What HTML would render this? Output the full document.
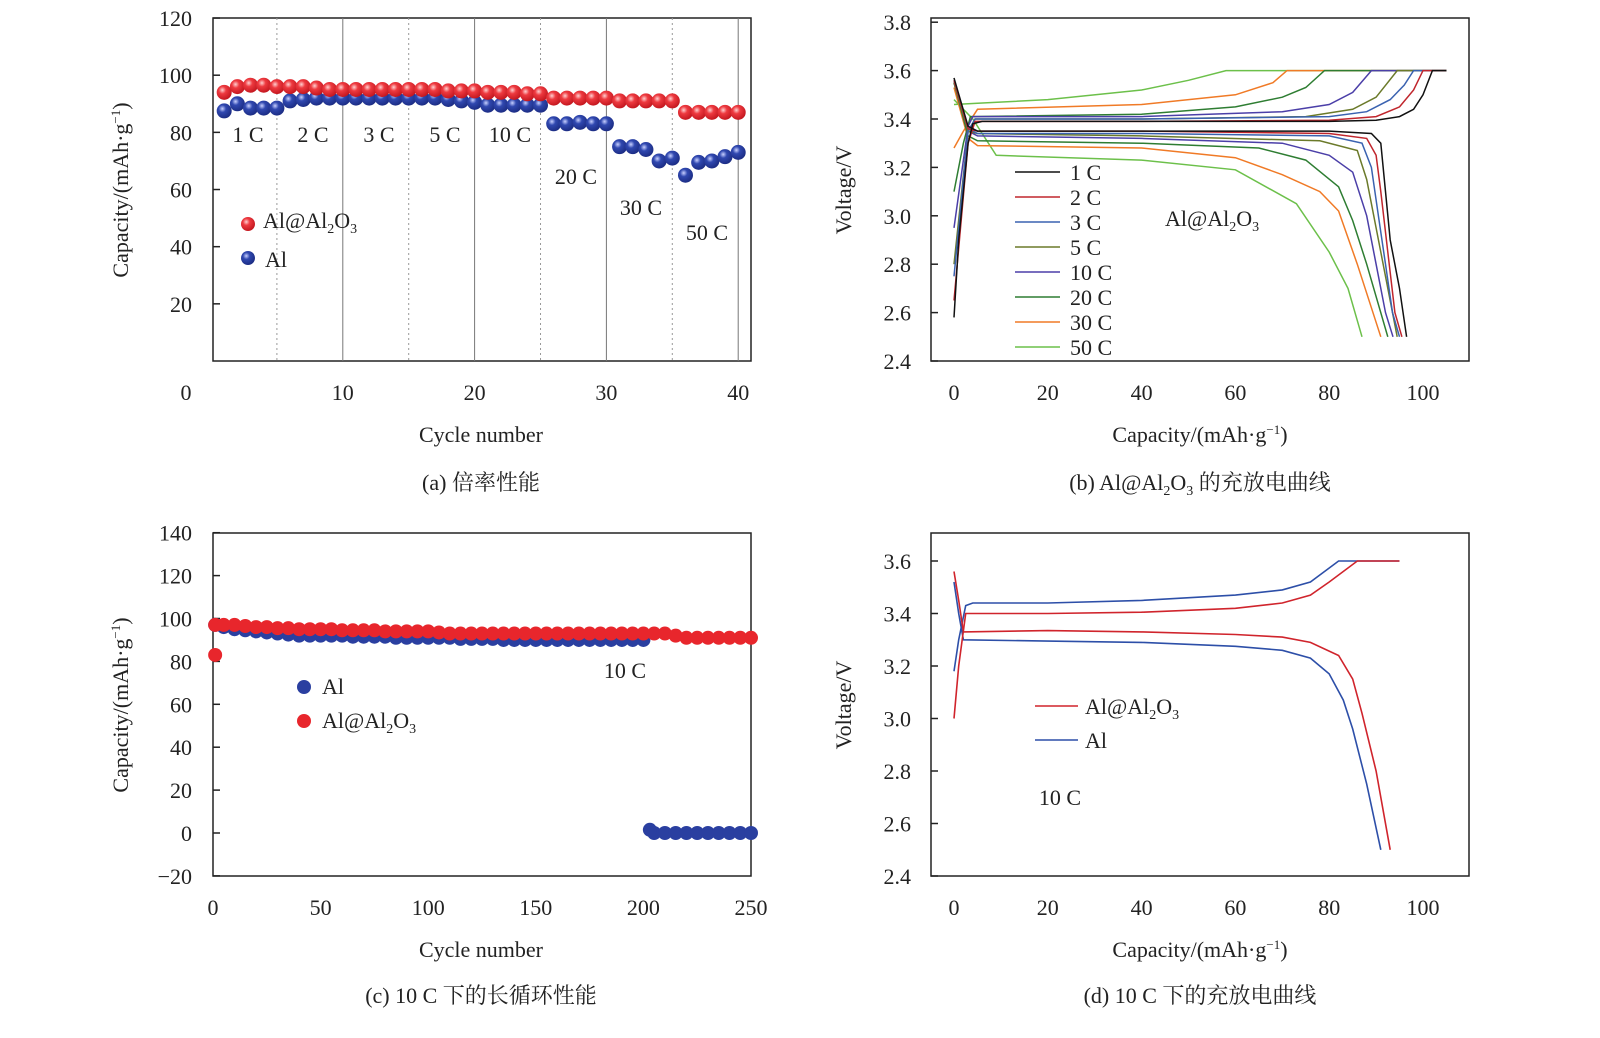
<!DOCTYPE html>
<html><head><meta charset="utf-8">
<style>
body{margin:0;background:#fff;width:1600px;height:1038px;overflow:hidden}
svg{display:block}
text{font-family:"Liberation Serif","Noto Serif CJK SC",serif;fill:#222}
</style></head>
<body>
<svg id="fig" width="1600" height="1038" viewBox="0 0 1600 1038">
<defs>
<radialGradient id="gr" cx="0.38" cy="0.35" r="0.7"><stop offset="0" stop-color="#ffd0d0"/><stop offset="0.35" stop-color="#ee3a40"/><stop offset="1" stop-color="#c0141c"/></radialGradient>
<radialGradient id="gb" cx="0.38" cy="0.35" r="0.7"><stop offset="0" stop-color="#c8d0ff"/><stop offset="0.35" stop-color="#3048b0"/><stop offset="1" stop-color="#1a2a80"/></radialGradient>
</defs>
</svg>
<script>
// ---------- Panel (a) data ----------
const aCycles=[1,2,3,4,5,6,7,8,9,10,11,12,13,14,15,16,17,18,19,20,21,22,23,24,25,26,27,28,29,30,31,32,33,34,35,36,37,38,39,40];
const aRed=[94,96,96.5,96.5,96,96,96,95.5,95,95,95,95,95,95,95,95,95,94.5,94.5,94.5,94,94,94,93.5,93.5,92,92,92,92,92,91,91,91,91,91,87,87,87,87,87];
const aBlue=[87.5,90,88.5,88.5,88.5,91,91.5,92,92,92,92,92,92,92,92,92,92,91.5,91,90.5,89.5,89.5,89.5,89.5,89.5,83,83,83.5,83,83,75,75,74,70,71,65,69.5,70,71.5,73];
const aYTicks=[20,40,60,80,100,120];
const aXTicks=[0,10,20,30,40];
const aRates=["1 C","2 C","3 C","5 C","10 C","20 C","30 C","50 C"];
// ---------- Panel (b) data ----------
const bRates=["1 C","2 C","3 C","5 C","10 C","20 C","30 C","50 C"];
const bColors=["#111","#c0262d","#3a62b0","#6b7a2a","#4b3fa8","#2e7d32","#f07a26","#6cc04a"];
const bCharge=[
[[0,2.58],[1,2.9],[3,3.3],[4,3.38],[6,3.39],[40,3.39],[80,3.39],[90,3.395],[95,3.41],[98,3.44],[100,3.5],[102,3.6],[105,3.6]],
[[0,2.65],[3,3.3],[4.5,3.39],[40,3.39],[80,3.395],[90,3.41],[95,3.45],[98,3.52],[100,3.6],[105,3.6]],
[[0,2.75],[3,3.35],[4.5,3.4],[40,3.4],[80,3.41],[88,3.43],[93,3.48],[96,3.54],[98,3.6],[105,3.6]],
[[0,2.8],[3,3.35],[4.5,3.4],[40,3.4],[75,3.41],[85,3.44],[90,3.49],[94.5,3.6],[105,3.6]],
[[0,2.95],[3,3.37],[4,3.41],[40,3.41],[70,3.43],[80,3.46],[85,3.51],[89,3.6],[105,3.6]],
[[0,3.1],[2,3.3],[3.5,3.41],[40,3.42],[60,3.45],[70,3.49],[75,3.53],[79,3.6],[105,3.6]],
[[0,3.28],[2,3.35],[5,3.44],[40,3.46],[60,3.5],[68,3.55],[71,3.6],[105,3.6]],
[[0,3.46],[5,3.465],[20,3.48],[40,3.52],[50,3.56],[58,3.6],[60,3.6],[105,3.6]]];
const bDischarge=[
[[0,3.57],[3,3.37],[5,3.35],[40,3.35],[80,3.35],[89,3.34],[91,3.3],[92,3.1],[93,2.9],[95,2.7],[96.5,2.5]],
[[0,3.56],[3,3.36],[5,3.35],[40,3.35],[80,3.34],[88,3.32],[90,3.25],[91,3.1],[92.5,2.85],[94,2.6],[95.5,2.5]],
[[0,3.56],[3,3.36],[5,3.34],[40,3.34],[80,3.33],[87,3.3],[89,3.2],[90.5,3.0],[92,2.8],[93.5,2.6],[95,2.5]],
[[0,3.55],[3,3.35],[5,3.34],[40,3.33],[78,3.31],[86,3.27],[88,3.15],[90,2.95],[92,2.75],[94.5,2.5]],
[[0,3.55],[3,3.35],[5,3.33],[40,3.32],[70,3.3],[80,3.25],[85,3.18],[88,3.0],[90,2.8],[92,2.6],[93.6,2.5]],
[[0,3.55],[3,3.33],[5,3.31],[40,3.3],[65,3.28],[75,3.23],[82,3.12],[85,2.98],[88,2.8],[92.5,2.5]],
[[0,3.53],[3,3.32],[5,3.29],[40,3.28],[60,3.24],[70,3.17],[78,3.1],[82,3.02],[86,2.8],[91,2.5]],
[[0,3.48],[4,3.4],[9,3.25],[40,3.23],[60,3.19],[73,3.05],[80,2.85],[84,2.7],[87,2.5]]];
const bYTicks=[2.4,2.6,2.8,3.0,3.2,3.4,3.6,3.8];
const bXTicks=[0,20,40,60,80,100];
// ---------- Panel (c) data ----------
const cCycles=[1,5,10,15,20,25,30,35,40,45,50,55,60,65,70,75,80,85,90,95,100,105,110,115,120,125,130,135,140,145,150,155,160,165,170,175,180,185,190,195,200,205,210,215,220,225,230,235,240,245,250];
const cRed=[97,97,97,96.5,96,96,95.5,95.5,95,95,95,95,94.5,94.5,94.5,94.5,94,94,94,94,94,93.5,93,93,93,93,93,93,93,93,93,93,93,93,93,93,93,93,93,93,93,93,93,92,91,91,91,91,91,91,91];
const cBlue=[97,96,95,94.5,94,93.5,93,92.5,92,92,92,92,92,91.5,91.5,91.5,91.5,91,91,91,91,91,91,90.5,90.5,90.5,90.5,90,90,90,90,90,90,90,90,90,90,90,90,90,90,0,0,0,0,0,0,0,0,0,0];
const cRedOutlier=[1,83];
const cYTicks=[-20,0,20,40,60,80,100,120,140];
const cXTicks=[0,50,100,150,200,250];
// ---------- Panel (d) data ----------
const dRedCharge=[[0,3.0],[1,3.2],[2.5,3.4],[20,3.4],[40,3.405],[60,3.42],[70,3.44],[76,3.47],[80,3.52],[86,3.6],[95,3.6]];
const dRedDis=[[0,3.56],[1,3.45],[2,3.33],[20,3.335],[40,3.33],[60,3.32],[70,3.31],[76,3.29],[82,3.24],[85,3.15],[87,3.02],[90,2.8],[93,2.5]];
const dBlueCharge=[[0,3.18],[1,3.3],[2.5,3.43],[4,3.44],[20,3.44],[40,3.45],[60,3.47],[70,3.49],[76,3.52],[82,3.6],[95,3.6]];
const dBlueDis=[[0,3.52],[1,3.4],[2,3.3],[20,3.295],[40,3.29],[60,3.275],[70,3.26],[76,3.23],[80,3.17],[83,3.07],[85,2.96],[88,2.75],[91,2.5]];
const dYTicks=[2.4,2.6,2.8,3.0,3.2,3.4,3.6];
const dXTicks=[0,20,40,60,80,100];

const NS="http://www.w3.org/2000/svg";
const svg=document.getElementById('fig');
function el(tag,attrs,parent){const e=document.createElementNS(NS,tag);for(const k in attrs)e.setAttribute(k,attrs[k]);(parent||svg).appendChild(e);return e;}
function txt(x,y,s,size,anchor,parent){const t=el('text',{x:x,y:y,'font-size':size,'text-anchor':anchor||'start'},parent);t.innerHTML=s;return t;}
const SUB='<tspan font-size="14" dy="5">2</tspan><tspan dy="-5">O</tspan><tspan font-size="14" dy="5">3</tspan>';
const ALO='Al@Al'+SUB;

// ================= Panel (a) =================
const ga=el('g',{});


const axA=c=>211+(c)*13.18, ayA=v=>361-v*2.858;
const fa=el('rect',{x:213,y:18,width:538,height:343,fill:'none',stroke:'#222','stroke-width':1.5},ga);


[5,15,25,35].forEach(c=>{const l=el('line',{x1:axA(c),x2:axA(c),y1:18,y2:361,stroke:'#999','stroke-dasharray':'2,3','stroke-width':1},ga);

});
[10,20,30,40].forEach(c=>{const l=el('line',{x1:axA(c),x2:axA(c),y1:18,y2:361,stroke:'#777','stroke-width':1},ga);

});
aYTicks.forEach(v=>{const y=ayA(v);el('line',{x1:213,x2:220,y1:y,y2:y,stroke:'#222','stroke-width':1.5},ga);
const t=txt(192,y+8,v,22,'end',ga);

});
aXTicks.forEach(v=>{const x=v===0?186:axA(v);const t=txt(x,400,v,22,'middle',ga);

});
aCycles.forEach((c,i)=>{const p=el('circle',{cx:axA(c),cy:ayA(aBlue[i]),r:7.5,fill:'url(#gb)'},ga);

});
aCycles.forEach((c,i)=>{const p=el('circle',{cx:axA(c),cy:ayA(aRed[i]),r:7.5,fill:'url(#gr)'},ga);

});
const rpos=[[248,142],[313,142],[379,142],[445,142],[510,142],[576,184],[641,215],[707,240]];
aRates.forEach((r,i)=>{const t=txt(rpos[i][0],rpos[i][1],r,22,'middle',ga);

});
let m=el('circle',{cx:248,cy:224,r:7,fill:'url(#gr)'},ga);


let lt=txt(263,228,ALO,22,'start',ga);


m=el('circle',{cx:248,cy:258,r:7,fill:'url(#gb)'},ga);


lt=txt(265,267,'Al',22,'start',ga);


let at=txt(0,0,'Capacity/(mAh·g<tspan font-size="13" dy="-8">−1</tspan><tspan dy="8">)</tspan>',22,'middle',ga);
at.setAttribute('transform','translate(128,190) rotate(-90)');


at=txt(481,442,'Cycle number',22,'middle',ga);


at=txt(481,490,'(a) 倍率性能',22,'middle',ga);



// ================= Panel (b) =================
const gb=el('g',{});


const axB=c=>954+c*4.69, ayB=v=>361-(v-2.4)*242;
const fb=el('rect',{x:931,y:18,width:538,height:343,fill:'none',stroke:'#222','stroke-width':1.5},gb);


bYTicks.forEach(v=>{const y=ayB(v);el('line',{x1:931,x2:938,y1:y,y2:y,stroke:'#222','stroke-width':1.5},gb);
const t=txt(911,y+8,v.toFixed(1),22,'end',gb);

});
bXTicks.forEach(v=>{const t=txt(axB(v),400,v,22,'middle',gb);

});
const pts=(arr,fx,fy)=>arr.map(p=>fx(p[0]).toFixed(1)+','+fy(p[1]).toFixed(1)).join(' ');
for(let i=bRates.length-1;i>=0;i--){
const c=el('polyline',{points:pts(bCharge[i],axB,ayB),fill:'none',stroke:bColors[i],'stroke-width':1.5},gb);


const d=el('polyline',{points:pts(bDischarge[i],axB,ayB),fill:'none',stroke:bColors[i],'stroke-width':1.5},gb);

}
bRates.forEach((r,i)=>{const y=172+i*25;
const l=el('line',{x1:1015,x2:1060,y1:y,y2:y,stroke:bColors[i],'stroke-width':1.5},gb);


const t=txt(1070,y+8,r,22,'start',gb);

});
at=txt(1165,226,ALO,22,'start',gb);


at=txt(0,0,'Voltage/V',22,'middle',gb);
at.setAttribute('transform','translate(851,190) rotate(-90)');


at=txt(1200,442,'Capacity/(mAh·g<tspan font-size="13" dy="-8">−1</tspan><tspan dy="8">)</tspan>',22,'middle',gb);


at=txt(1200,490,'(b) '+ALO+'<tspan dy="-5"> 的充放电曲线</tspan>',22,'middle',gb);



// ================= Panel (c) =================
const gc=el('g',{});


const axC=c=>213+c*2.152, ayC=v=>833-v*2.145;
const fc=el('rect',{x:213,y:533,width:538,height:343,fill:'none',stroke:'#222','stroke-width':1.5},gc);


cYTicks.forEach(v=>{const y=ayC(v);el('line',{x1:213,x2:220,y1:y,y2:y,stroke:'#222','stroke-width':1.5},gc);
const t=txt(192,y+8,v<0?'−'+(-v):v,22,'end',gc);

});
cXTicks.forEach(v=>{const t=txt(axC(v),915,v,22,'middle',gc);

});
cCycles.forEach((c,i)=>{const p=el('circle',{cx:axC(c),cy:ayC(cBlue[i]),r:7,fill:'#2a3fa0'},gc);

});
const drop=el('circle',{cx:axC(203),cy:ayC(1.5),r:7,fill:'#2a3fa0'},gc);


cCycles.forEach((c,i)=>{const p=el('circle',{cx:axC(c),cy:ayC(cRed[i]),r:7,fill:'#e8262c'},gc);

});
const ro=el('circle',{cx:axC(cRedOutlier[0]),cy:ayC(cRedOutlier[1]),r:7,fill:'#e8262c'},gc);


m=el('circle',{cx:304,cy:687,r:7,fill:'#2a3fa0'},gc);


lt=txt(322,694,'Al',22,'start',gc);


m=el('circle',{cx:304,cy:721,r:7,fill:'#e8262c'},gc);


lt=txt(322,728,ALO,22,'start',gc);


at=txt(625,678,'10 C',22,'middle',gc);


at=txt(0,0,'Capacity/(mAh·g<tspan font-size="13" dy="-8">−1</tspan><tspan dy="8">)</tspan>',22,'middle',gc);
at.setAttribute('transform','translate(128,705) rotate(-90)');


at=txt(481,957,'Cycle number',22,'middle',gc);


at=txt(481,1003,'(c) 10 C 下的长循环性能',22,'middle',gc);



// ================= Panel (d) =================
const gd=el('g',{});


const axD=c=>954+c*4.69, ayD=v=>876-(v-2.4)*262.5;
const fd=el('rect',{x:931,y:533,width:538,height:343,fill:'none',stroke:'#222','stroke-width':1.5},gd);


dYTicks.forEach(v=>{const y=ayD(v);el('line',{x1:931,x2:938,y1:y,y2:y,stroke:'#222','stroke-width':1.5},gd);
const t=txt(911,y+8,v.toFixed(1),22,'end',gd);

});
dXTicks.forEach(v=>{const t=txt(axD(v),915,v,22,'middle',gd);

});
[[dBlueCharge,'#2d4fa8','al-charge-curve'],[dBlueDis,'#2d4fa8','al-discharge-curve'],[dRedCharge,'#d0242c','al-al2o3-charge-curve'],[dRedDis,'#d0242c','al-al2o3-discharge-curve']].forEach(s=>{
const p=el('polyline',{points:pts(s[0],axD,ayD),fill:'none',stroke:s[1],'stroke-width':1.6},gd);

});
let l=el('line',{x1:1035,x2:1078,y1:706,y2:706,stroke:'#d0242c','stroke-width':1.6},gd);


lt=txt(1085,714,ALO,22,'start',gd);


l=el('line',{x1:1035,x2:1078,y1:740,y2:740,stroke:'#2d4fa8','stroke-width':1.6},gd);


lt=txt(1085,748,'Al',22,'start',gd);


at=txt(1060,805,'10 C',22,'middle',gd);


at=txt(0,0,'Voltage/V',22,'middle',gd);
at.setAttribute('transform','translate(851,705) rotate(-90)');


at=txt(1200,957,'Capacity/(mAh·g<tspan font-size="13" dy="-8">−1</tspan><tspan dy="8">)</tspan>',22,'middle',gd);


at=txt(1200,1003,'(d) 10 C 下的充放电曲线',22,'middle',gd);


</script>
</body></html>
